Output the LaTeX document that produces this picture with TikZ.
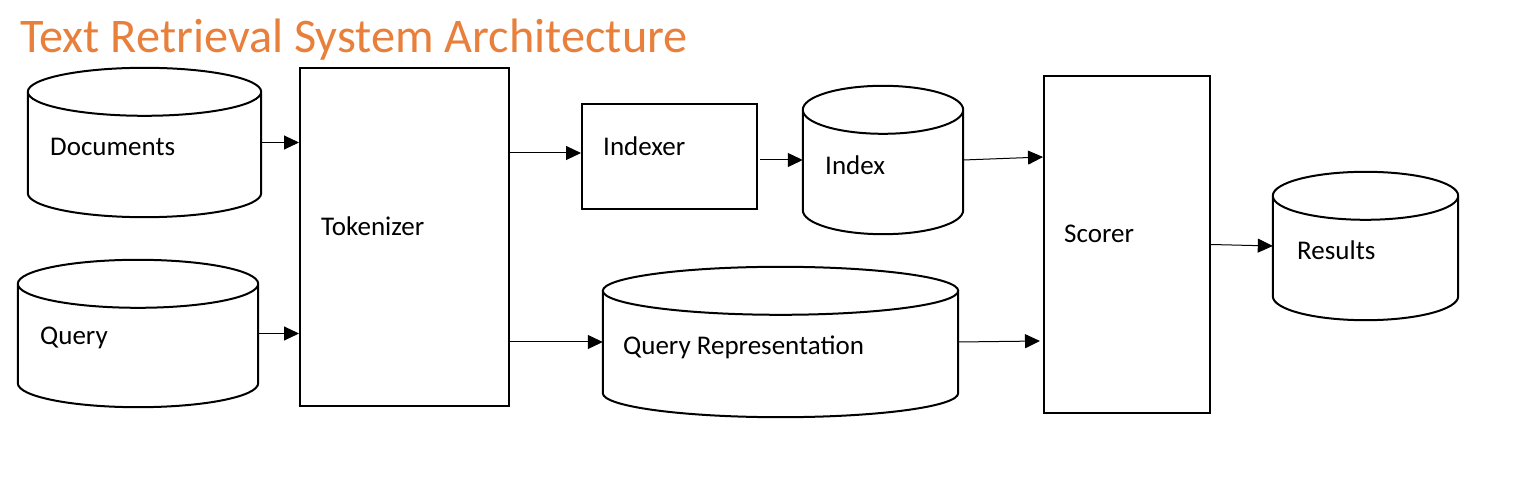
\documentclass[tikz,border=0pt]{standalone}
\usepackage{fontspec}
\setmainfont{Carlito}
\usetikzlibrary{arrows.meta,calc}
\definecolor{titleorange}{RGB}{232,128,60}
\tikzset{
  outline/.style={line width=2pt, black},
  shapebox/.style={draw, outline, inner sep=0pt},
  dbnode/.style={inner sep=0pt},
  lbl/.style={anchor=west, inner sep=0pt, font=\fontsize{27}{30}\selectfont},
  arr/.style={line width=1pt, -{Triangle[length=15pt,width=14pt]}},
}
\newcommand{\dbcyl}[1]{%
  \draw[outline] let \p1=(#1.north west), \p2=(#1.south east),
      \n1={(\x2-\x1)/2} in
    ({(\x1+\x2)/2},\y1-24pt) ellipse [x radius=\n1, y radius=24pt]
    (\x1,\y1-24pt) -- (\x1,\y2+24pt)
    arc [start angle=180, end angle=360, x radius=\n1, y radius=24pt]
    -- (\x2,\y1-24pt);
}
\begin{document}
\begin{tikzpicture}[x=1pt,y=1pt]
\useasboundingbox[fill=white] (0,0) rectangle (1516,-494);

% title
\node[anchor=base west, inner sep=0pt, text=titleorange,
      font=\fontsize{48.3}{52}\selectfont] (title) at (20,-53) {Text Retrieval System Architecture};

% cylinders (invisible frames, outline drawn by \dbcyl)
\node[dbnode, minimum width=233pt, minimum height=149pt] (docs) at (144.5,-142.5) {};
\node[dbnode, minimum width=240pt, minimum height=147pt] (query) at (138,-333.5) {};
\node[dbnode, minimum width=160pt, minimum height=148pt] (index) at (883,-160) {};
\node[dbnode, minimum width=355pt, minimum height=150pt] (qrep) at (780.5,-342) {};
\node[dbnode, minimum width=185pt, minimum height=148pt] (results) at (1365.5,-246) {};
\dbcyl{docs}
\dbcyl{query}
\dbcyl{index}
\dbcyl{qrep}
\dbcyl{results}

% boxes
\node[shapebox, minimum width=209pt, minimum height=338pt] (tok) at (404.5,-237) {};
\node[shapebox, minimum width=175pt, minimum height=105pt] (indexer) at (669.5,-156.5) {};
\node[shapebox, minimum width=166pt, minimum height=337pt] (scorer) at (1127,-244.5) {};

% labels
\node[lbl] (docsl) at (50,-147) {Documents};
\node[lbl] (queryl) at (40,-338) {Query};
\node[lbl] (tokl) at (321,-226) {Tokenizer};
\node[lbl] (indexerl) at (603,-146) {Indexer};
\node[lbl] (indexl) at (825,-165) {Index};
\node[lbl] (scorerl) at (1064,-234) {Scorer};
\node[lbl] (qrepl) at (623,-347) {Query Representation};
\node[lbl] (resultsl) at (1297,-250) {Results};

% connectors
\draw[arr] (docs.east) -- (docs.east -| tok.west);
\draw[arr] (query.east) -- (query.east -| tok.west);
\draw[arr] (tok.east |- 0,-153) -- (indexer.west |- 0,-153);
\draw[arr] ($(indexer.east |- index.west)+(2,0)$) -- (index.west);
\draw[arr] (index.east) -- (scorer.west |- 0,-157);
\draw[arr] (tok.east |- qrep.west) -- (qrep.west);
\draw[arr] (qrep.east) -- ($(scorer.west |- 0,-341)+(-3,0)$);
\draw[arr] (scorer.east) -- (results.west);
\end{tikzpicture}
\end{document}
